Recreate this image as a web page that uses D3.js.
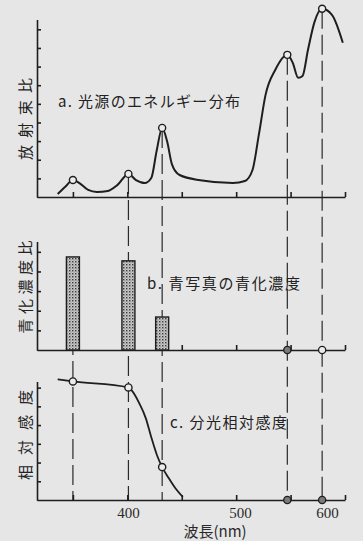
<!DOCTYPE html>
<html>
<head>
<meta charset="utf-8">
<script src="https://cdn.jsdelivr.net/npm/d3@7"></script>
<style>
  body { margin: 0; background: #e6e6e6; }
  svg { display: block; }
</style>
</head>
<body>
<div id="chart"></div>
<script>
// ---------- data ---------- //
// a. 光源のエネルギー分布 (放射束比)
var energyWave = [336, 343, 350, 356, 364, 372, 382, 391, 401, 408, 416, 422, 427, 432, 436.5, 441, 448, 467, 497, 508, 515, 521, 527, 536, 547, 552, 557, 561, 566, 572, 579, 588, 598];
var energyVal  = [0.16, 0.55, 0.91, 0.75, 0.38, 0.27, 0.32, 0.65, 1.24, 0.91, 0.75, 1.02, 2.5, 3.71, 3.0, 1.75, 1.18, 0.9, 0.75, 0.86, 1.45, 3.4, 5.48, 6.83, 7.63, 7.2, 6.4, 6.5, 7.9, 9.4, 10.1, 9.78, 8.28];
var peakWave = [350, 401, 432, 547, 579];
var peakVal  = [0.91, 1.24, 3.71, 7.63, 10.1];

// b. 青写真の青化濃度 (青化濃度比)
var barWave = [350, 401, 432];
var barVal  = [4.74, 4.54, 1.68];
var zeroWaveB = [547, 579];

// c. 分光相対感度 (相対感度)
var sensWave = [336, 350, 401, 404, 411, 417, 422, 427.5, 432, 438, 444, 451];
var sensVal  = [6.44, 6.33, 6.01, 5.85, 5.16, 4.36, 3.35, 2.35, 1.76, 1.17, 0.64, 0.16];
var sensPointWave = [350, 401, 432];
var sensPointVal  = [6.33, 6.01, 1.76];
var zeroWaveC = [547, 579];

// axis ticks
var xTicks = [350, 400, 450, 500, 550, 600];
var xLabels = ["400", "500", "600"];
var xLabelWave = [401, 504, 584];
var yTicksA = [1, 2, 3, 4, 5, 6, 7, 8, 9];
var yTicksB = [1, 2, 3, 4, 5];
var yTicksC = [1, 2, 3, 4, 5, 6];

// ---------- drawing ---------- //
var width = 363, height = 541;
var ink = "#1e1e1e";
var paper = "#ececec";
var jp = "'Noto Sans CJK JP', sans-serif";

var svg = d3.select("#chart").append("svg")
  .attr("width", width)
  .attr("height", height);

svg.append("rect").attr("width", width).attr("height", height).attr("fill", "#e6e6e6");

// stipple for the bars
var pat = svg.append("defs").append("pattern")
  .attr("id", "stipple")
  .attr("patternUnits", "userSpaceOnUse")
  .attr("width", 3).attr("height", 3);
pat.append("rect").attr("width", 3).attr("height", 3).attr("fill", "#c9c9c9");
pat.append("rect").attr("width", 1.4).attr("height", 1.4).attr("fill", "#3a3a3a");
pat.append("rect").attr("x", 1.5).attr("y", 1.5).attr("width", 1).attr("height", 1).attr("fill", "#777");

var x = d3.scaleLinear().domain([317, 600]).range([37, 345]);

var yA = d3.scaleLinear().domain([0, 9.5]).range([197, 20]);
var yB = d3.scaleLinear().domain([0, 5.5]).range([350, 242]);
var yC = d3.scaleLinear().domain([0, 6.3]).range([500, 382]);

// dashed guide lines, from each peak down to the bottom axis of c
var guideTop = peakWave.map(function(w, i) { return i == 0 ? yB(barVal[0]) : yA(peakVal[i]); });
svg.append("g")
  .attr("stroke", "#2a2a2a")
  .attr("stroke-width", 1.2)
  .attr("stroke-dasharray", "20,6")
  .selectAll("line")
  .data(peakWave)
  .join("line")
  .attr("x1", d => x(d))
  .attr("x2", d => x(d))
  .attr("y1", (d, i) => guideTop[i])
  .attr("y2", yC(0));

var drawAxes = function(y, ticks) {
  var gx = svg.append("g")
    .attr("transform", "translate(0," + y(0) + ")")
    .call(d3.axisBottom(x).tickValues(xTicks).tickSizeInner(-5).tickSizeOuter(0).tickFormat(""));
  var gy = svg.append("g")
    .attr("transform", "translate(" + x(317) + ",0)")
    .call(d3.axisLeft(y).tickValues(ticks).tickSizeInner(-4).tickSizeOuter(0).tickFormat(""));
  [gx, gy].forEach(function(g) {
    g.selectAll("path,line").attr("stroke", ink).attr("stroke-width", 1.6);
  });
  gy.select(".domain").attr("d", "M0.5," + y.range()[1] + "V" + (y(0) + 0.8));
};

drawAxes(yA, yTicksA);
drawAxes(yB, yTicksB);
drawAxes(yC, yTicksC);

// a. energy curve
var energy = energyWave.map((w, i) => [w, energyVal[i]]);
svg.append("path")
  .datum(energy)
  .attr("fill", "none")
  .attr("stroke", ink)
  .attr("stroke-width", 2)
  .attr("d", d3.line().x(d => x(d[0])).y(d => yA(d[1])).curve(d3.curveMonotoneX));

svg.append("g")
  .selectAll("circle")
  .data(peakWave)
  .join("circle")
  .attr("cx", d => x(d))
  .attr("cy", (d, i) => yA(peakVal[i]))
  .attr("r", 3.5)
  .attr("fill", paper)
  .attr("stroke", ink)
  .attr("stroke-width", 1.4);

// b. bars
svg.append("g")
  .selectAll("rect")
  .data(barWave)
  .join("rect")
  .attr("x", d => x(d) - 6.5)
  .attr("y", (d, i) => yB(barVal[i]))
  .attr("width", 13)
  .attr("height", (d, i) => yB(0) - yB(barVal[i]))
  .attr("fill", "url(#stipple)")
  .attr("stroke", ink)
  .attr("stroke-width", 1.4);

svg.append("g")
  .selectAll("circle")
  .data(zeroWaveB)
  .join("circle")
  .attr("cx", d => x(d))
  .attr("cy", yB(0))
  .attr("r", 3.6)
  .attr("fill", (d, i) => i == 0 ? "#7a7a7a" : paper)
  .attr("stroke", ink)
  .attr("stroke-width", 1.3);

// c. sensitivity curve
var sens = sensWave.map((w, i) => [w, sensVal[i]]);
svg.append("path")
  .datum(sens)
  .attr("fill", "none")
  .attr("stroke", ink)
  .attr("stroke-width", 1.8)
  .attr("d", d3.line().x(d => x(d[0])).y(d => yC(d[1])).curve(d3.curveMonotoneX));

svg.append("g")
  .selectAll("circle")
  .data(sensPointWave)
  .join("circle")
  .attr("cx", d => x(d))
  .attr("cy", (d, i) => yC(sensPointVal[i]))
  .attr("r", 3.6)
  .attr("fill", paper)
  .attr("stroke", ink)
  .attr("stroke-width", 1.4);

svg.append("g")
  .selectAll("circle")
  .data(zeroWaveC)
  .join("circle")
  .attr("cx", d => x(d))
  .attr("cy", yC(0))
  .attr("r", 3.6)
  .attr("fill", "#7a7a7a")
  .attr("stroke", ink)
  .attr("stroke-width", 1.3);

// ---------- texts ---------- //
svg.append("g")
  .attr("font-family", "'Liberation Serif', serif")
  .attr("font-size", 15)
  .attr("fill", "#2a2a2a")
  .attr("text-anchor", "middle")
  .selectAll("text")
  .data(xLabels)
  .join("text")
  .attr("x", (d, i) => x(xLabelWave[i]))
  .attr("y", 518)
  .text(d => d);

svg.append("text")
  .attr("x", 215).attr("y", 537)
  .attr("text-anchor", "middle")
  .attr("font-family", jp)
  .attr("font-size", 15)
  .attr("fill", "#2a2a2a")
  .text("波長(nm)");

var titles = [
  {t: "a. 光源のエネルギー分布", x: 58, y: 107, len: 182},
  {t: "b. 青写真の青化濃度", x: 147, y: 289, len: 153},
  {t: "c. 分光相対感度", x: 170, y: 428, len: 117}
];
svg.append("g")
  .attr("font-family", jp)
  .attr("font-size", 15)
  .attr("fill", "#222")
  .selectAll("text")
  .data(titles)
  .join("text")
  .attr("x", d => d.x)
  .attr("y", d => d.y)
  .attr("textLength", d => d.len)
  .attr("lengthAdjust", "spacing")
  .text(d => d.t);

var yTitles = [
  {t: "放射束比", cy: 119, len: 82},
  {t: "青化濃度比", cy: 287, len: 93},
  {t: "相対感度", cy: 435, len: 90}
];
svg.append("g")
  .attr("font-family", jp)
  .attr("font-size", 15)
  .attr("fill", "#222")
  .attr("text-anchor", "middle")
  .selectAll("text")
  .data(yTitles)
  .join("text")
  .attr("transform", d => "translate(26," + d.cy + ") rotate(-90)")
  .attr("dy", "0.35em")
  .attr("textLength", d => d.len)
  .attr("lengthAdjust", "spacing")
  .text(d => d.t);
</script>
</body>
</html>
